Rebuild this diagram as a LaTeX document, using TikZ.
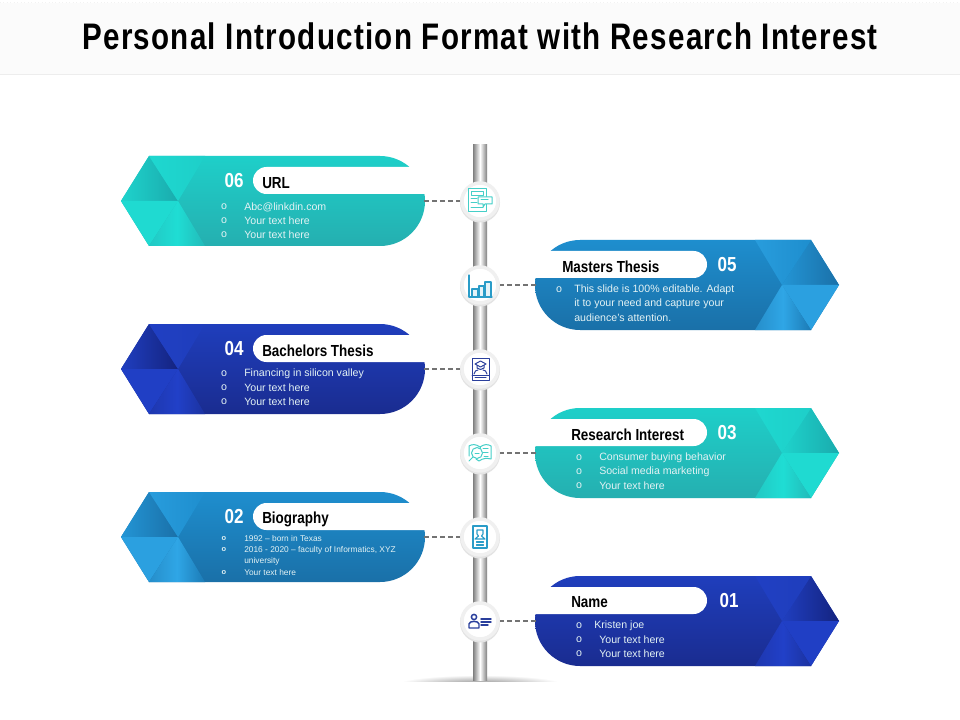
\documentclass[tikz,border=0pt]{standalone}
\usepackage{fontspec}
\setmainfont{Liberation Sans}
\newfontfamily\nar{Liberation Sans}[FakeStretch=0.84]
\newfontfamily\tit{Liberation Sans}[FakeStretch=0.80,LetterSpace=3.5]
\definecolor{tealA}{HTML}{1ECFC9}\definecolor{tealB}{HTML}{25AFB0}\definecolor{tealL}{HTML}{1FDDD4}\definecolor{tealD}{HTML}{1AABAD}
\definecolor{blueA}{HTML}{1E8ECE}\definecolor{blueB}{HTML}{1A70A8}\definecolor{blueL}{HTML}{2FA6E6}\definecolor{blueD}{HTML}{1A70A8}
\definecolor{navyA}{HTML}{1F3EBC}\definecolor{navyB}{HTML}{1A2C90}\definecolor{navyL}{HTML}{2140C8}\definecolor{navyD}{HTML}{14237F}
\definecolor{txt}{HTML}{E3F2F4}
\definecolor{icoT}{HTML}{45CFC8}\definecolor{icoB}{HTML}{2A9CC8}\definecolor{icoN}{HTML}{2A3F9C}
% #1 palette, #2 mid y
\newcommand{\bannershape}[2]{%
  \begin{scope}[yshift=#2*-0.75pt]
    \shade[top color=#1A,bottom color=#1B] (149,-45) -- (380,-45) arc[start angle=-90,end angle=90,radius=45] -- (149,45) -- (121,0) -- cycle;
    \shade[left color=#1A!70!#1L,right color=#1D] (121,0) -- (149,-45) -- (178,0) -- cycle;
    \shade[left color=#1L!60!#1A,right color=#1A] (149,-45) -- (205,-45) -- (178,0) -- cycle;
    \fill[#1L!75!#1A] (121,0) -- (149,45) -- (178,0) -- cycle;
    \shade[left color=#1L!55!#1B,right color=#1A!35!#1B,middle color=#1L] (149,45) -- (205,45) -- (178,0) -- cycle;
    \fill[white] (432,-34) -- (266.5,-34) arc[start angle=-90,end angle=-270,radius=13.5] -- (432,-7) -- cycle;
  \end{scope}}
\tikzset{
  pagebase/.style={x=0.75pt,y=-0.75pt},
  hub/.style={circle,fill=white,draw=black!6,line width=2.6pt,minimum size=27pt,inner sep=0pt},
  hubshadow/.style={fill=black!11},
  link/.style={draw=black!55,line width=1pt,dash pattern=on 3.8pt off 2.2pt},
  num/.style={text=white,font=\nar\bfseries\fontsize{15.2}{15.2}\selectfont,inner sep=0pt},
  head/.style={text=black,anchor=west,font=\nar\bfseries\fontsize{12}{12}\selectfont,inner sep=0pt},
  bodytx/.style={text=txt,anchor=west,yshift=-0.7pt,font=\fontsize{7.95}{7.95}\selectfont,inner sep=0pt},
  smalltx/.style={text=txt,anchor=west,font=\fontsize{6.27}{6.27}\selectfont,inner sep=0pt},
  bull/.style={text=txt,yshift=-0.7pt,font=\fontsize{8}{8}\selectfont,inner sep=0pt},
  smallbull/.style={text=txt,font=\bfseries\fontsize{5.6}{5.6}\selectfont,inner sep=0pt},
  area/.style={inner sep=0pt,minimum width=227.25pt,minimum height=67.5pt},
  ico/.style={line width=0.75pt,line join=round,line cap=round},
}
\begin{document}
\begin{tikzpicture}[pagebase]
\useasboundingbox (0,0) rectangle (960,720);
\fill[white] (0,0) rectangle (960,720);
% title band
\fill[black!1.5] (0,3) rectangle (960,74);
\draw[black!7,line width=0.8pt] (0,74.5) -- (960,74.5);
\draw[black!5,line width=0.6pt,dotted] (0,2) -- (960,2);
\node[inner sep=0pt,text=black,font=\tit\bfseries\fontsize{27.7}{27.7}\selectfont] (title) at (480,36) {Personal Introduction Format with Research Interest};
% floor shadow
\begin{scope}
  \clip (390,670) rectangle (570,681);
  \shade[inner color=black!45,outer color=white] (480,684) ellipse [x radius=82,y radius=9];
\end{scope}
% pole
\shade[left color=black!50,right color=black!50,middle color=white] (473,145) rectangle (487,680);
% banners
\bannershape{teal}{201}
\bannershape{navy}{369}
\bannershape{blue}{537}
\begin{scope}[xscale=-1,xshift=-720pt]
\bannershape{blue}{285}
\bannershape{teal}{453}
\bannershape{navy}{621}
\end{scope}
% banner anchors
\node[area] (b6) at (272.5,201) {};
\node[area] (b4) at (272.5,369) {};
\node[area] (b2) at (272.5,537) {};
\node[area] (b5) at (687.5,285) {};
\node[area] (b3) at (687.5,453) {};
\node[area] (b1) at (687.5,621) {};
% hubs
\foreach \n/\y in {h6/201,h5/285,h4/369,h3/453,h2/537,h1/621}{
  \fill[hubshadow] (480,\y+1.5) circle [radius=20];
  \node[hub] (\n) at (480,\y) {};
}
\draw[link] (b6.east) -- (h6);
\draw[link] (b5.west) -- (h5);
\draw[link] (b4.east) -- (h4);
\draw[link] (b3.west) -- (h3);
\draw[link] (b2.east) -- (h2);
\draw[link] (b1.west) -- (h1);
% icons
\begin{scope}[shift={(480,201)},ico,draw=icoT]
  \draw (-12,-12) rectangle (6,11);
  \draw (-9,-9) rectangle (3,-5);
  \draw (-9,-2) -- (-3,-2) (-9,2) -- (-3,2) (-9,7) -- (3,7);
  \draw[fill=white] (-2,-4) -- (12,-4) -- (12,3) -- (5,3) -- (3,6) -- (3,3) -- (-2,3) -- cycle;
  \draw (1,-1) -- (8,-1);
\end{scope}
\begin{scope}[shift={(480,285)},ico,draw=icoB,line width=0.95pt]
  \draw (-11,-10) -- (-11,12) -- (12,12);
  \draw[fill=icoB!12] (-8,12) rectangle (-2,4);
  \draw[fill=icoB!12] (-1,12) rectangle (4,1);
  \draw[fill=icoB!12] (5,12) rectangle (11,-3);
\end{scope}
\begin{scope}[shift={(480,369)},ico,draw=icoN]
  \draw (-8,-11) rectangle (9,11);
  \draw (-8,6) -- (9,6) (-5,8.5) -- (6,8.5);
  \draw (-5,-5) -- (0.5,-8) -- (6,-5) -- (0.5,-2) -- cycle;
  \draw (-3,-3.5) -- (-3,-1) .. controls (-1,1) and (2,1) .. (4,-1) -- (4,-3.5);
  \draw (-6,5) .. controls (-6,2) and (-3,1) .. (-2,1) (7,5) .. controls (7,2) and (4,1) .. (3,1);
\end{scope}
\begin{scope}[shift={(480,453)},ico,draw=icoT]
  \draw (0,-6) .. controls (-4,-9) and (-8,-9) .. (-11,-7) -- (-11,3);
  \draw (0,-6) .. controls (4,-9) and (8,-9) .. (11,-7) -- (11,6) .. controls (7,5) and (3,5) .. (-1,8) -- (-4,6);
  \draw (0,-6) -- (0,-4) (3,-5) -- (8,-5) (3,-1) -- (8,-1) (4,3) -- (8,3);
  \draw[fill=white] (-3,0) circle [radius=5.5];
  \draw (-7,4) -- (-11,8);
  \draw (-5,0) -- (-1,0);
\end{scope}
\begin{scope}[shift={(480,537)},ico,draw=icoB,line width=0.85pt]
  \draw (-7,-11) rectangle (7,11);
  \draw (-3,-7) -- (3,-7) -- (3,-3) -- (1.5,-1) -- (5,2) -- (-5,2) -- (-1.5,-1) -- (-3,-3) -- cycle;
  \draw (-3.5,5) -- (3.5,5) (-3.5,8) -- (3.5,8);
\end{scope}
\begin{scope}[shift={(480,621)},ico,draw=icoN,line width=1.1pt]
  \draw (-6,-4) circle [radius=2.6];
  \draw (-11,7) -- (-11,3) .. controls (-11,-0.5) and (-1,-0.5) .. (-1,3) -- (-1,7) -- cycle;
  \draw (1,-2) -- (11,-2) (1,1) -- (11,1) (1,4) -- (8,4);
\end{scope}
% row 06
\node[num] (n6) at (234,181) {06};
\node[head] (l6) at (262,183) {URL};
\node[bull] (d6a) at (224,206) {o}; \node[bodytx] (t6a) at (244,206) {Abc@linkdin.com};
\node[bull] (d6b) at (224,220) {o}; \node[bodytx] (t6b) at (244,220) {Your text here};
\node[bull] (d6c) at (224,234) {o}; \node[bodytx] (t6c) at (244,234) {Your text here};
% row 05
\node[num] (n5) at (727,265) {05};
\node[head] (l5) at (562,267) {Masters Thesis};
\node[bull] (d5a) at (559,289) {o}; \node[bodytx] (t5a) at (574,289) {This slide is 100\% editable. Adapt};
\node[bodytx] (t5b) at (574,303) {it to your need and capture your};
\node[bodytx] (t5c) at (574,317) {audience's attention.};
% row 04
\node[num] (n4) at (234,349) {04};
\node[head] (l4) at (262,351) {Bachelors Thesis};
\node[bull] (d4a) at (224,373) {o}; \node[bodytx] (t4a) at (244,373) {Financing in silicon  valley};
\node[bull] (d4b) at (224,387) {o}; \node[bodytx] (t4b) at (244,387) {Your text here};
\node[bull] (d4c) at (224,401) {o}; \node[bodytx] (t4c) at (244,401) {Your text here};
% row 03
\node[num] (n3) at (727,433) {03};
\node[head] (l3) at (571,435) {Research Interest};
\node[bull] (d3a) at (579,457) {o}; \node[bodytx] (t3a) at (599,457) {Consumer buying behavior};
\node[bull] (d3b) at (579,471) {o}; \node[bodytx] (t3b) at (599,471) {Social media marketing};
\node[bull] (d3c) at (579,485) {o}; \node[bodytx] (t3c) at (599,485) {Your text here};
% row 02
\node[num] (n2) at (234,517) {02};
\node[head] (l2) at (262,519) {Biography};
\node[smallbull] (d2a) at (224,539) {o}; \node[smalltx] (t2a) at (244,539) {1992 – born in Texas};
\node[smallbull] (d2b) at (224,550) {o}; \node[smalltx] (t2b) at (244,550) {2016 - 2020 – faculty of Informatics, XYZ};
\node[smalltx] (t2c) at (244,561) {university};
\node[smallbull] (d2c) at (224,573) {o}; \node[smalltx] (t2d) at (244,573) {Your text  here};
% row 01
\node[num] (n1) at (729,601) {01};
\node[head] (l1) at (571,602) {Name};
\node[bull] (d1a) at (579,625) {o}; \node[bodytx] (t1a) at (594,625) {Kristen joe};
\node[bull] (d1b) at (579,639) {o}; \node[bodytx] (t1b) at (599,639) {Your text here};
\node[bull] (d1c) at (579,653) {o}; \node[bodytx] (t1c) at (599,653) {Your text here};
\end{tikzpicture}
\end{document}
